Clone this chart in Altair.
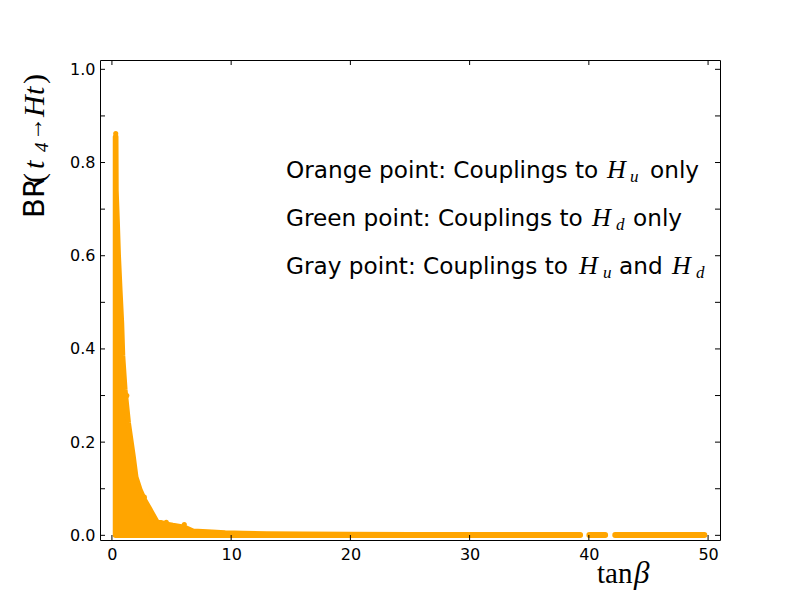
import altair as alt
import pandas as pd

# ---- data ----
# upper envelope of the dense orange point cloud (tan beta, BR), split where the tail has gaps
env_seg = ["a"] * 30 + ["b"] * 2 + ["c"] * 2
env_x = [0.30, 0.32, 0.34, 0.44, 0.53, 0.66, 0.80, 0.89, 1.08, 1.37, 1.77, 2.0, 2.34, 2.72, 3.17,
         3.74, 4.5, 5.1, 6.1, 6.8, 8.0, 9.5, 11.0, 13.0, 16.0, 20.0, 25.0, 30.0, 35.0, 39.28,
         40.03, 41.38,
         42.2, 49.7]
env_y = [0.855, 0.856, 0.74, 0.67, 0.60, 0.527, 0.456, 0.385, 0.313, 0.241, 0.17, 0.125, 0.098, 0.076, 0.056,
         0.030, 0.024, 0.021, 0.017, 0.009, 0.007, 0.005, 0.004, 0.003, 0.0025, 0.002, 0.0015, 0.001, 0.001, 0.001,
         0.001, 0.001,
         0.001, 0.001]

# isolated points standing out of the envelope
out_x = [0.32, 2.72, 4.56, 6.07, 1.25]
out_y = [0.862, 0.082, 0.028, 0.023, 0.30]

x_ticks = [0, 10, 20, 30, 40, 50]
y_ticks = [0.0, 0.1, 0.2, 0.3, 0.4, 0.5, 0.6, 0.7, 0.8, 0.9, 1.0]

ORANGE = "#FFA500"
W, H = 620, 480
SANS = "DejaVu Sans"
SERIF = "Liberation Serif"

env = pd.DataFrame({"x": env_x, "y": env_y, "seg": env_seg})
outl = pd.DataFrame({"x": out_x, "y": out_y})
xt = pd.DataFrame({"v": x_ticks})
yt = pd.DataFrame({"v": y_ticks})

xs = alt.Scale(domain=[-1, 51], nice=False, zero=False)
ys = alt.Scale(domain=[-0.01, 1.02], nice=False, zero=False)

x_axis = alt.Axis(values=x_ticks, ticks=False, tickSize=0, domain=False, grid=False,
                  labelFont=SANS, labelFontSize=16, labelColor="black", labelPadding=6,
                  title=None)
y_axis = alt.Axis(values=y_ticks, ticks=False, tickSize=0, domain=False, grid=False,
                  labelFont=SANS, labelFontSize=16, labelColor="black", labelPadding=5,
                  labelExpr="round(datum.value*10) % 2 == 0 ? format(datum.value, '.1f') : ''",
                  title=None)

area = alt.Chart(env).mark_area(
    color=ORANGE, stroke=ORANGE, strokeWidth=5.5, strokeJoin="round", strokeCap="round",
    opacity=1
).encode(
    x=alt.X("x:Q", scale=xs, axis=x_axis),
    y=alt.Y("y:Q", scale=ys, axis=y_axis),
    y2=alt.datum(0),
    detail="seg:N",
)

dots = alt.Chart(outl).mark_circle(color=ORANGE, size=26, opacity=1).encode(
    x=alt.X("x:Q", scale=xs), y=alt.Y("y:Q", scale=ys)
)

# inward ticks on all four sides
tb = alt.Chart(xt).mark_rule(color="black", strokeWidth=1).encode(
    x=alt.X("v:Q", scale=xs), y=alt.value(H), y2=alt.value(H - 5))
tt = alt.Chart(xt).mark_rule(color="black", strokeWidth=1).encode(
    x=alt.X("v:Q", scale=xs), y=alt.value(0), y2=alt.value(5))
tl = alt.Chart(yt).mark_rule(color="black", strokeWidth=1).encode(
    y=alt.Y("v:Q", scale=ys), x=alt.value(0), x2=alt.value(5))
tr = alt.Chart(yt).mark_rule(color="black", strokeWidth=1).encode(
    y=alt.Y("v:Q", scale=ys), x=alt.value(W), x2=alt.value(W - 5))

one = alt.Data(values=[{"k": 1}])


def txt(s, x, y, font=SANS, size=23.2, style="normal", angle=0, baseline="alphabetic"):
    return alt.Chart(one).mark_text(
        text=s, font=font, fontSize=size, fontStyle=style, color="black",
        align="left", baseline=baseline, angle=angle
    ).encode(x=alt.value(x - 100), y=alt.value(y - 60))


notes = [
    txt("Orange point: Couplings to", 286, 178),
    txt("H", 607, 178, SERIF, 26, "italic"),
    txt("u", 630, 182, SERIF, 17, "italic"),
    txt("only", 650, 178),
    txt("Green point: Couplings to", 286, 226),
    txt("H", 592, 226, SERIF, 26, "italic"),
    txt("d", 616, 230, SERIF, 17, "italic"),
    txt("only", 633, 226),
    txt("Gray point: Couplings to", 286, 274),
    txt("H", 579, 274, SERIF, 26, "italic"),
    txt("u", 603, 278, SERIF, 17, "italic"),
    txt("and", 619, 274),
    txt("H", 672, 274, SERIF, 26, "italic"),
    txt("d", 696, 278, SERIF, 17, "italic"),
    # x-axis title
    txt("tan", 597, 583, SERIF, 29),
    txt("β", 634, 583, SERIF, 31, "italic"),
    # y-axis title (rotated, reading upward)
    txt("BR", 44, 218, SANS, 29, angle=270),
    txt("(", 44, 183, SERIF, 30, angle=270),
    txt("t", 44, 169, SERIF, 30, "italic", angle=270),
    txt("4", 48, 152, SERIF, 19, "italic", angle=270),
    txt("→", 42, 141, SERIF, 24, angle=270),
    txt("H", 44, 117, SERIF, 30, "italic", angle=270),
    txt("t", 44, 95, SERIF, 30, "italic", angle=270),
    txt(")", 44, 84, SERIF, 30, angle=270),
]

chart = alt.layer(area, dots, tb, tt, tl, tr, *notes).properties(
    width=W, height=H,
    autosize=alt.AutoSizeParams(type="none"),
    padding={"left": 100, "top": 60, "right": 80, "bottom": 60},
    background="white",
).configure_view(stroke="black", strokeWidth=1)

chart.save("out.html", embed_options={"renderer": "svg", "actions": False})
